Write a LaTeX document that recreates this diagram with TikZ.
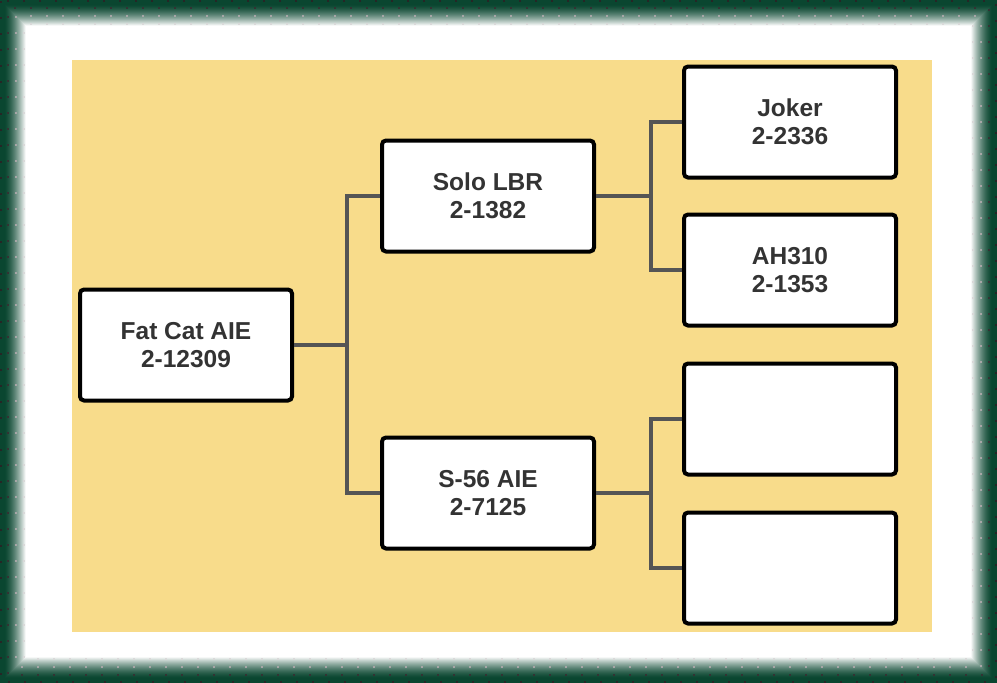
\documentclass[tikz,border=0pt]{standalone}
\usepackage{fontspec}
\setmainfont{Liberation Sans}
\usetikzlibrary{positioning}
\definecolor{framegreen}{HTML}{0A4630}
\definecolor{panel}{HTML}{F8DC8B}
\definecolor{linkgray}{HTML}{555555}
\definecolor{textgray}{HTML}{333333}

\begin{document}
\begin{tikzpicture}[x=1pt, y=-1pt,
    horse/.style={draw=black, fill=white, line width=4pt, rounded corners=4pt,
      minimum width=212pt, minimum height=111pt, align=center,
      text=textgray, font=\fontsize{24.5}{28}\selectfont\bfseries},
    link/.style={draw=linkgray, line width=4pt},
    dots/.style={line width=2pt, dash pattern=on 2pt off 14pt}]
  \useasboundingbox (0,0) rectangle (997,683);
  % frame
  \fill[white] (0,0) rectangle (997,683);
  \foreach \i in {0,...,26}{
    \pgfmathsetmacro{\pct}{max(0,100-(max(0.01,\i-4))^1.5)}
    \draw[line width=1.1pt, draw=framegreen!\pct!white] (\i+0.5,\i+0.5) rectangle (996.5-\i,682.5-\i);
  }
  \draw[dots, black!85] (1,1) rectangle (996,682);
  \draw[dots, black!80, dash phase=8pt] (8,8) rectangle (989,675);
  \draw[dots, gray!70] (16,16) rectangle (981,667);
  \draw[dots, gray!30, dash phase=8pt] (24,24) rectangle (973,659);
  \fill[panel] (72,60) rectangle (932,632);

  % boxes
  \node[horse] (fatcat) at (186,345) {Fat Cat AIE\\2-12309};
  \node[horse] (solo) at (488,196) {Solo LBR\\2-1382};
  \node[horse] (s56) at (488,493) {S-56 AIE\\2-7125};
  \node[horse] (joker) at (790,122) {Joker\\2-2336};
  \node[horse] (ah310) at (790,270) {AH310\\2-1353};
  \node[horse] (blanka) at (790,419) {};
  \node[horse] (blankb) at (790,568) {};

  \coordinate (forka) at (347,345);
  \coordinate (forkb) at (651,196);
  \coordinate (forkc) at (651,493);

  % connectors
  \draw[link] (fatcat.east) -- (forka);
  \draw[link] (solo.west) -| (forka) |- (s56.west);
  \draw[link] (solo.east) -- (forkb);
  \draw[link] (joker.west) -| (forkb) |- (ah310.west);
  \draw[link] (s56.east) -- (forkc);
  \draw[link] (blanka.west) -| (forkc) |- (blankb.west);
\end{tikzpicture}
\end{document}
